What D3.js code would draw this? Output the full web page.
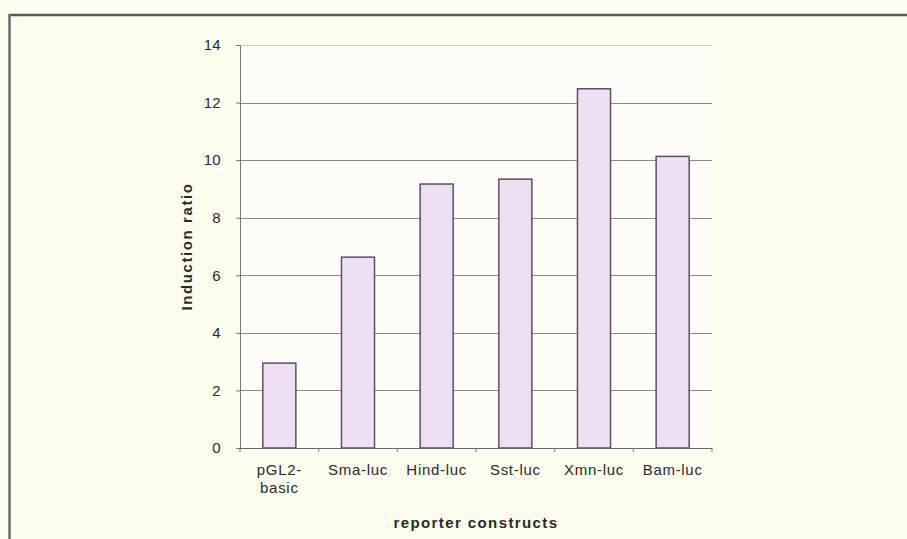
<!DOCTYPE html>
<html><head><meta charset="utf-8">
<script src="https://cdn.jsdelivr.net/npm/d3@7"></script>
<style>body{margin:0;background:#fcfdee;}svg{display:block;font-family:"Liberation Sans",Arial,sans-serif;}</style>
</head><body>
<svg id="c" width="907" height="539"></svg>
<script>
const categories = ["pGL2-\nbasic","Sma-luc","Hind-luc","Sst-luc","Xmn-luc","Bam-luc"];
const values = [2.95, 6.63, 9.17, 9.34, 12.48, 10.13];
const yTicks = [0,2,4,6,8,10,12,14];
const yTitle = "Induction ratio";
const xTitle = "reporter constructs";

const svg = d3.select("#c");
svg.append("rect").attr("width",907).attr("height",539).attr("fill","#fcfdee");
// frame
svg.append("line").attr("x1",9).attr("x2",907).attr("y1",15).attr("y2",15).attr("stroke","#555a66").attr("stroke-width",2.5);
svg.append("line").attr("x1",9.5).attr("x2",9.5).attr("y1",14).attr("y2",539).attr("stroke","#666a70").attr("stroke-width",2.5);

const L=240,R=712,T=45,B=448;
const x = d3.scaleBand().domain(categories).range([L,R]).paddingInner(0.58).paddingOuter(0.29);
const y = d3.scaleLinear().domain([0,14]).range([B,T]);

svg.append("rect").attr("x",L).attr("y",T).attr("width",R-L).attr("height",B-T).attr("fill","#fdfdf8");

// grid
svg.append("g").selectAll("line").data(yTicks.filter(d=>d>0)).join("line")
  .attr("x1",L).attr("x2",R).attr("y1",d=>Math.round(y(d))+0.5).attr("y2",d=>Math.round(y(d))+0.5)
  .attr("stroke",d=>d===14?"#c8c8c0":"#8a8a8a").attr("stroke-width",1);

// bars
svg.append("g").selectAll("rect").data(values).join("rect")
  .attr("x",(d,i)=>x(categories[i])).attr("width",x.bandwidth())
  .attr("y",d=>y(d)).attr("height",d=>B-y(d))
  .attr("fill","#efdff3").attr("stroke","#5e5060").attr("stroke-width",1.5);

// y axis
const ya = svg.append("g").attr("transform",`translate(${L},0)`)
  .call(d3.axisLeft(y).tickValues(yTicks).tickSize(4).tickPadding(15).tickFormat(d3.format("d")));
ya.attr("font-size",null).attr("font-family",null);
ya.select(".domain").attr("stroke","#777");
ya.selectAll(".tick line").attr("stroke","#777");
ya.selectAll("text").attr("font-size",15).attr("fill","#2a2a2a").attr("letter-spacing",0.3);

// x axis line and ticks at band boundaries
svg.append("line").attr("x1",L).attr("x2",R).attr("y1",B+0.5).attr("y2",B+0.5).attr("stroke","#666");
const bounds = d3.range(categories.length+1).map(i=>L+i*(R-L)/categories.length);
svg.append("g").selectAll("line").data(bounds).join("line")
  .attr("x1",d=>d).attr("x2",d=>d).attr("y1",B).attr("y2",B+4).attr("stroke","#777");

// x labels
svg.append("g").selectAll("text").data(categories).join("text")
  .attr("x",d=>x(d)+x.bandwidth()/2).attr("y",475).attr("text-anchor","middle")
  .attr("font-size",15).attr("fill","#2a2a2a").attr("letter-spacing",0.7)
  .each(function(d){
    const t=d3.select(this);
    d.split("\n").forEach((s,i)=>t.append("tspan").attr("x",x(d)+x.bandwidth()/2).attr("dy",i?18:0).text(s));
  });

svg.append("text").attr("transform",`translate(192,${(T+B)/2}) rotate(-90)`).attr("text-anchor","middle")
  .attr("font-size",15).attr("font-weight","bold").attr("fill","#2a2a2a").attr("letter-spacing",1.6).text(yTitle);
svg.append("text").attr("x",(L+R)/2).attr("y",528).attr("text-anchor","middle")
  .attr("font-size",15).attr("font-weight","bold").attr("fill","#2a2a2a").attr("letter-spacing",1.4).text(xTitle);
</script>
</body></html>
